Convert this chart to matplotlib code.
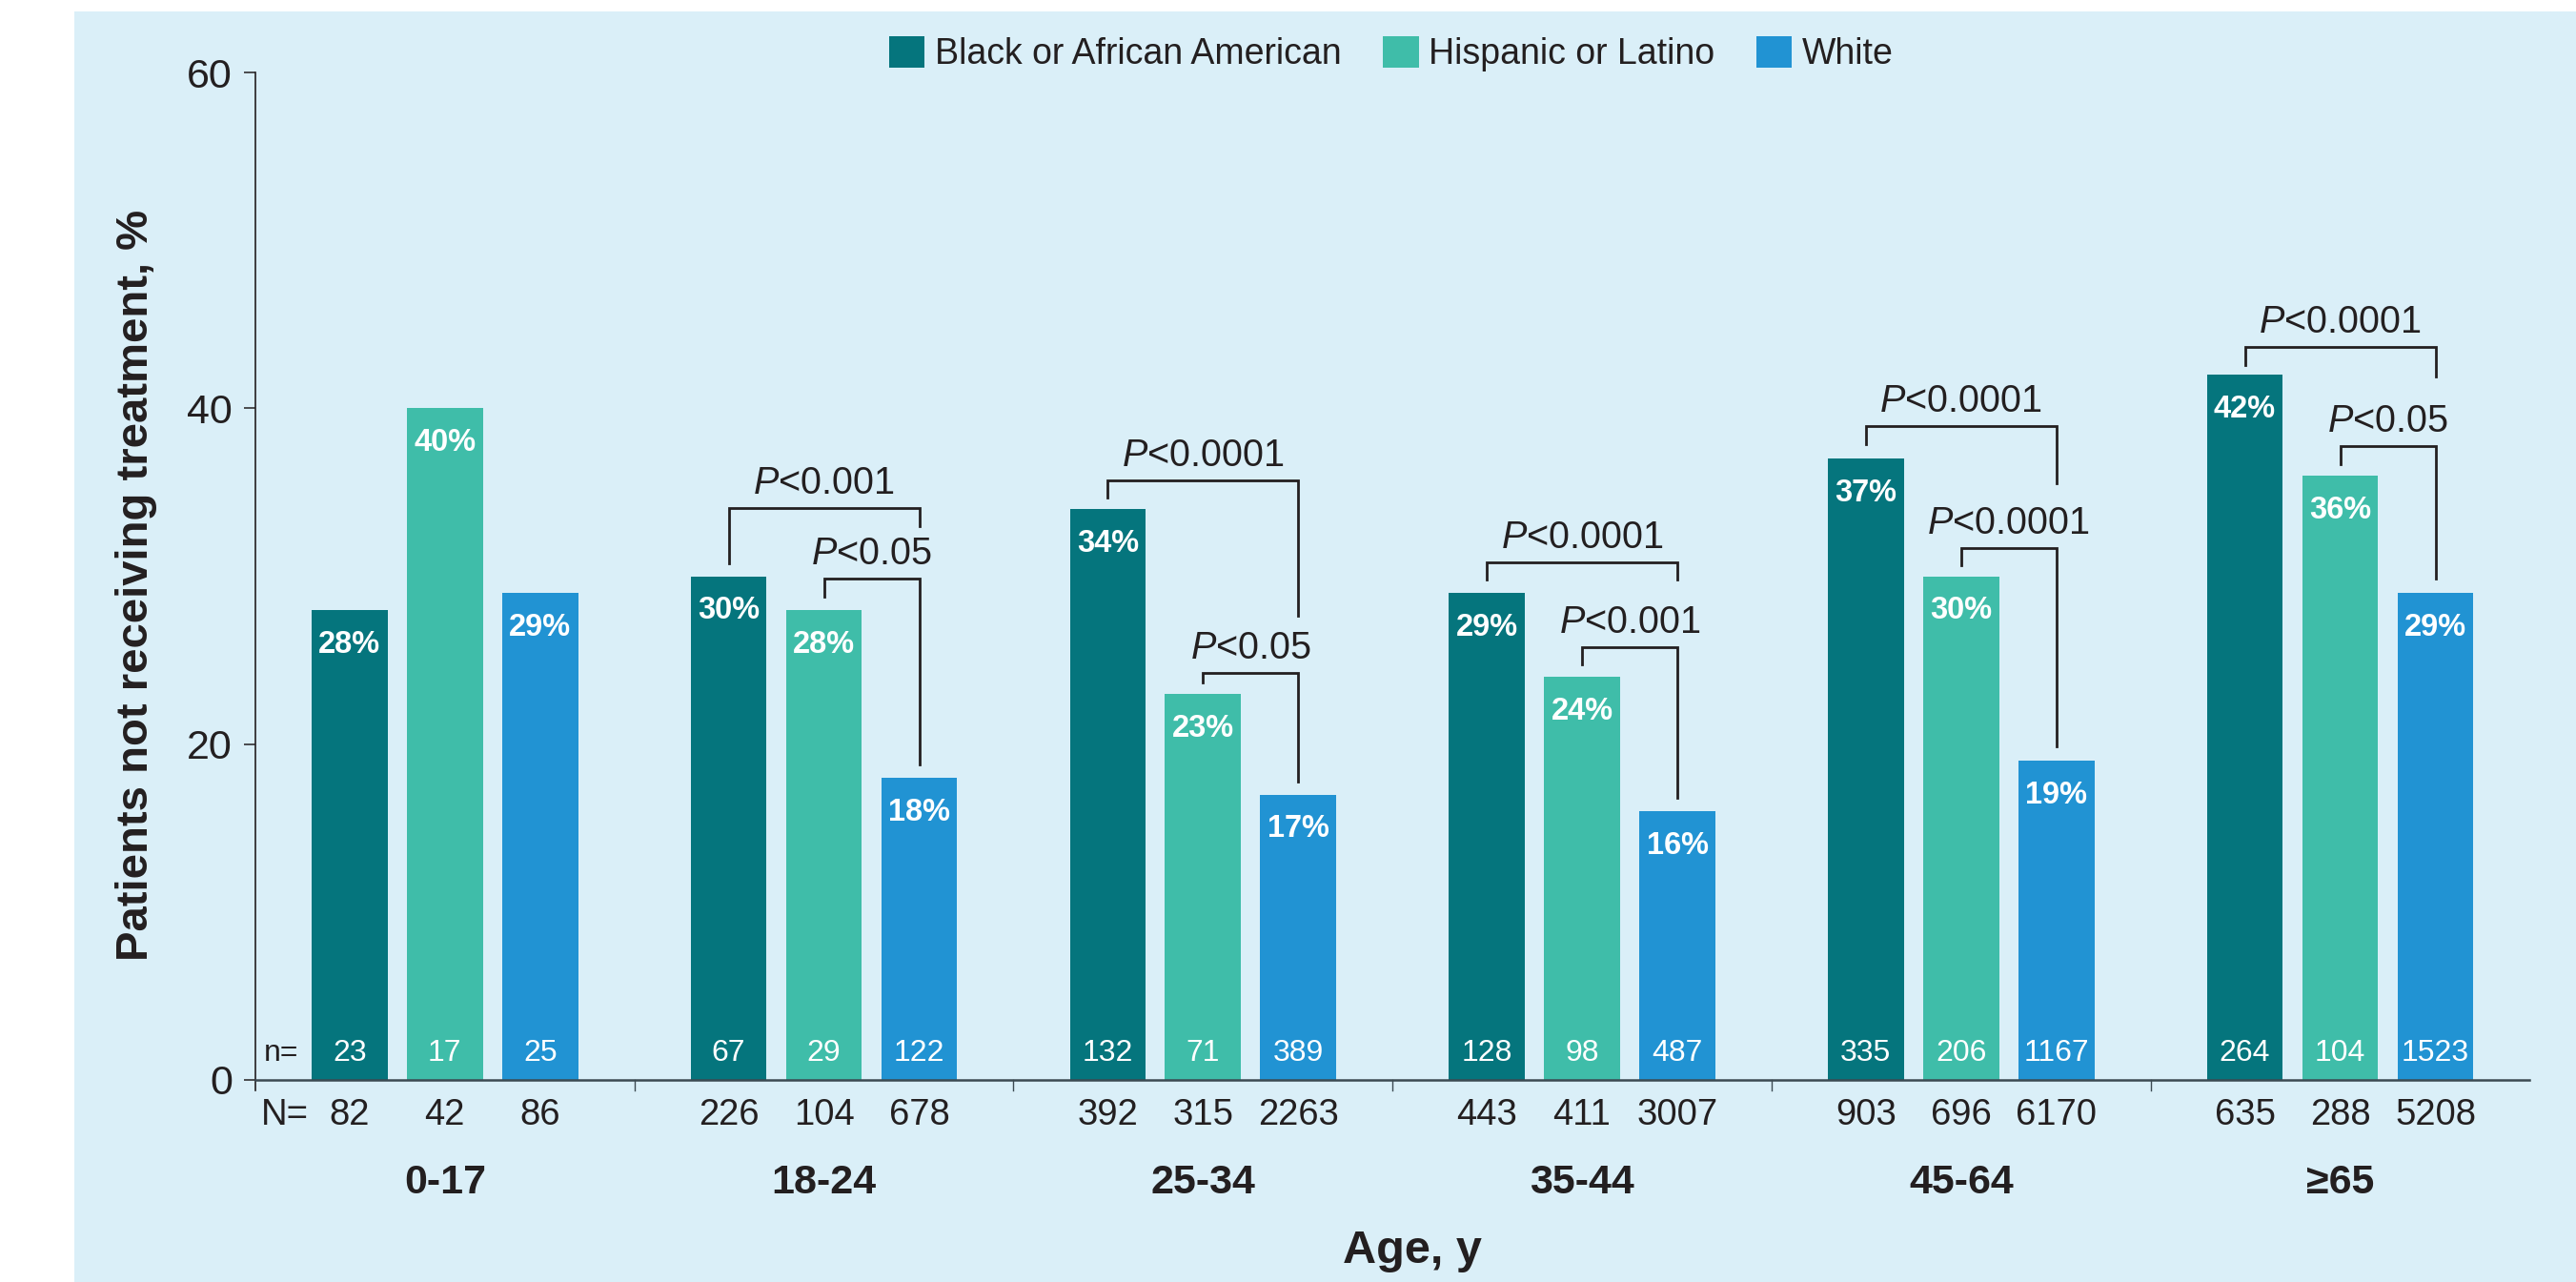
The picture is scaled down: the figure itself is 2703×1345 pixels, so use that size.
import matplotlib.pyplot as plt
import numpy as np
from matplotlib.patches import Patch, Rectangle

# -------------------------------------------------------------------
# Colours
# -------------------------------------------------------------------
BG = "#daeff8"
INK = "#231f20"
AXIS = "#3c4a52"
C_BLACK = "#05757d"
C_HISP = "#3fbda9"
C_WHITE = "#2193d3"

plt.rcParams.update(
    {
        "font.family": ["Liberation Sans", "DejaVu Sans"],
        "mathtext.fontset": "custom",
        "mathtext.it": "Liberation Sans:italic",
        "mathtext.rm": "Liberation Sans",
        "text.color": INK,
    }
)

# -------------------------------------------------------------------
# Data
# -------------------------------------------------------------------
age_groups = ["0-17", "18-24", "25-34", "35-44", "45-64", "≥65"]
races = ["Black or African American", "Hispanic or Latino", "White"]
colors = [C_BLACK, C_HISP, C_WHITE]

pct_black = [28, 30, 34, 29, 37, 42]
pct_hisp = [40, 28, 23, 24, 30, 36]
pct_white = [29, 18, 17, 16, 19, 29]

n_black = [23, 67, 132, 128, 335, 264]
n_hisp = [17, 29, 71, 98, 206, 104]
n_white = [25, 122, 389, 487, 1167, 1523]

N_black = [82, 226, 392, 443, 903, 635]
N_hisp = [42, 104, 315, 411, 696, 288]
N_white = [86, 678, 2263, 3007, 6170, 5208]

# brackets: group, left bar, right bar, label, top, left-leg end, right-leg end
br_group = [1, 1, 2, 2, 3, 3, 4, 4, 5, 5]
br_left = [0, 1, 0, 1, 0, 1, 0, 1, 0, 1]
br_right = [2, 2, 2, 2, 2, 2, 2, 2, 2, 2]
br_label = ["0.001", "0.05", "0.0001", "0.05", "0.0001", "0.001",
            "0.0001", "0.0001", "0.0001", "0.05"]
br_top = [34.05, 29.85, 35.7, 24.23, 30.82, 25.77, 38.93, 31.67, 43.64, 37.74]
br_lend = [30.76, 28.77, 34.68, 23.67, 29.8, 24.74, 37.85, 30.65, 42.57, 36.66]
br_rend = [33.0, 18.79, 27.64, 17.76, 29.8, 16.8, 35.53, 19.86, 41.88, 29.85]

pct = [pct_black, pct_hisp, pct_white]
n_in = [n_black, n_hisp, n_white]
N_tot = [N_black, N_hisp, N_white]

# -------------------------------------------------------------------
# Figure
# -------------------------------------------------------------------
W, H = 2703, 1345
fig = plt.figure(figsize=(W / 100, H / 100), dpi=100)
fig.patch.set_facecolor("white")
fig.add_artist(
    Rectangle((78 / W, 0), 1, 1 - 12 / H, transform=fig.transFigure,
              facecolor=BG, edgecolor="none", zorder=-10)
)

ax = fig.add_axes([267.9 / W, 212 / H, 2386.5 / W, 1057 / H])
ax.set_facecolor("none")
ax.set_xlim(-0.5, 5.5)
ax.set_ylim(0, 60)

x = np.arange(len(age_groups))
pitch = 0.2514
bw = 0.2

for i in range(3):
    xs = x + (i - 1) * pitch
    ax.bar(xs, pct[i], width=bw, color=colors[i], zorder=2)
    for xi, v, nv, Nv in zip(xs, pct[i], n_in[i], N_tot[i]):
        ax.text(xi, v - 2.55, f"{v}%", ha="center", va="baseline",
                color="white", fontsize=23.5, fontweight="bold", zorder=3)
        ax.text(xi, 1.15, str(nv), ha="center", va="baseline",
                color="white", fontsize=23, zorder=3)
        ax.text(xi, -2.67, str(Nv), ha="center", va="baseline",
                fontsize=27.5, clip_on=False)

ax.text(-0.387, 1.15, "n=", ha="right", va="baseline", fontsize=23)
ax.text(-0.36, -2.67, "N=", ha="right", va="baseline", fontsize=27.5,
        clip_on=False)

for xi, g in zip(x, age_groups):
    ax.text(xi, -6.75, g, ha="center", va="baseline", fontsize=31,
            fontweight="bold", clip_on=False)
ax.text(2.553, -10.9, "Age, y", ha="center", va="baseline", fontsize=35,
        fontweight="bold", clip_on=False)

# significance brackets
for g, l, r, lab, top, le, re in zip(br_group, br_left, br_right, br_label,
                                     br_top, br_lend, br_rend):
    xl = g + (l - 1) * pitch
    xr = g + (r - 1) * pitch
    ax.plot([xl, xl, xr, xr], [le, top, top, re], color=INK, lw=2.0,
            solid_joinstyle="miter", zorder=4)
    ax.text((xl + xr) / 2, top + 0.85, "$P$<" + lab, ha="center",
            va="baseline", fontsize=28.5, zorder=4)

# axes
for s in ["top", "right", "bottom"]:
    ax.spines[s].set_visible(False)
ax.spines["left"].set_color(INK)
ax.spines["left"].set_linewidth(1.2)
ax.spines["left"].set_bounds(-0.6, 60)
ax.plot([-0.5, 5.5], [0, 0], color=AXIS, lw=1.8, clip_on=False, zorder=5)
for sx in np.arange(0.5, 5.0, 1.0):
    ax.plot([sx, sx], [0, -0.6], color=AXIS, lw=1.0, clip_on=False)

ax.set_xticks([])
ax.set_yticks([0, 20, 40, 60])
ax.tick_params(axis="y", length=8.6, width=1.1, pad=8.6, labelsize=31,
               colors=INK)

fig.text(143 / W, 1 - 614 / H, "Patients not receiving treatment, %",
         rotation=90, ha="center", va="center", fontsize=34,
         fontweight="bold")

handles = [Patch(facecolor=c, edgecolor="none") for c in colors]
fig.legend(handles, races, loc="center", bbox_to_anchor=(0.540, 0.958),
           ncol=3, frameon=False, fontsize=27, handlelength=1.0,
           handleheight=1.0, handletextpad=0.27, columnspacing=1.17,
           borderaxespad=0, borderpad=0)

fig.savefig("out.png", dpi=100, facecolor=fig.get_facecolor())
